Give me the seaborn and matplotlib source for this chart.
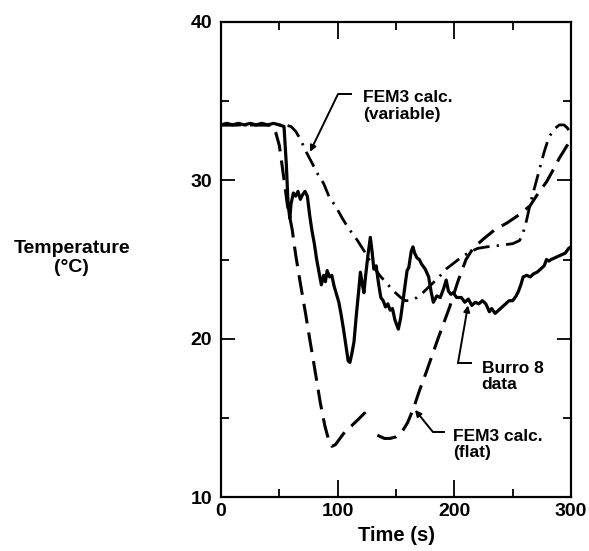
import matplotlib
matplotlib.use("Agg")
import matplotlib.pyplot as plt
import seaborn as sns
import pandas as pd

# ---------------- data ----------------
burro_t = [0, 5, 10, 15, 20, 25, 30, 35, 40, 45, 50, 54, 56, 57.5, 59, 60, 62, 64, 66, 68, 70, 72, 74,
           76, 78, 80, 82, 84, 86, 88, 89.5, 91, 93, 95, 97, 99, 101, 103, 105, 107, 109, 110.5, 112,
           114, 116, 118, 119.5, 121, 122.5, 124, 126, 128, 129.5, 131, 133, 135, 137, 139, 141, 143,
           145, 147, 149, 152, 154, 156, 158, 159.5, 161, 163, 164.5, 166, 168, 170, 172, 175, 178,
           180, 182, 185, 188, 191, 193, 195, 197, 199, 202, 206, 209, 212, 215, 218, 221, 224, 227,
           230, 232, 235, 238, 241, 244, 247, 250, 253, 255, 257, 259, 262, 265, 268, 271, 274, 277,
           279, 281, 283, 286, 289, 292, 295, 298, 300]
burro_T = [33.5, 33.6, 33.5, 33.6, 33.5, 33.6, 33.5, 33.6, 33.5, 33.6, 33.5, 33.4, 31.0, 28.5, 27.6,
           28.5, 29.2, 29.0, 29.3, 28.8, 29.1, 29.3, 29.0, 27.8, 26.8, 26.0, 25.0, 24.2, 23.4, 24.0,
           23.6, 24.3, 23.9, 24.0, 23.3, 22.8, 22.3, 21.5, 20.6, 19.6, 18.6, 18.5, 19.0, 19.8, 21.5,
           23.0, 24.2, 23.5, 22.9, 24.0, 25.3, 26.4, 25.5, 24.4, 24.6, 23.5, 22.6, 22.4, 22.0, 22.2,
           21.8, 21.9, 21.2, 20.6, 21.3, 22.4, 23.5, 24.3, 24.5, 25.5, 25.8, 25.4, 25.1, 25.0, 24.7,
           24.4, 23.9, 23.0, 22.3, 22.7, 22.6, 23.2, 23.7, 23.0, 22.8, 22.9, 22.6, 22.6, 22.3, 22.5,
           22.1, 22.3, 22.2, 22.4, 22.2, 21.7, 21.9, 21.6, 21.8, 22.0, 22.2, 22.4, 22.4, 22.7, 23.0,
           23.4, 23.9, 24.0, 23.9, 24.1, 24.2, 24.4, 24.6, 25.0, 24.9, 25.0, 25.1, 25.2, 25.3, 25.4,
           25.7, 25.8]

flat1_t = [0, 40, 44, 47, 50, 53, 57, 61, 64, 68, 72, 76, 81, 85, 89, 93, 95, 98, 102, 106, 112,
           119, 123, 127]
flat1_T = [33.5, 33.5, 33.4, 33.0, 32.2, 30.6, 28.4, 26.9, 25.3, 23.5, 21.8, 20.0, 17.8, 16.0, 14.5,
           13.4, 13.2, 13.3, 13.7, 14.1, 14.5, 15.0, 15.3, 14.8]
flat2_t = [134, 140, 145, 150, 155, 160, 165, 170, 176, 186, 196, 203, 210, 216, 225, 235, 245, 255,
           265, 272, 279, 285, 290, 295, 300]
flat2_T = [13.9, 13.7, 13.7, 13.8, 14.1, 14.7, 15.6, 16.7, 17.9, 20.0, 22.0, 23.6, 25.0, 25.7, 26.3,
           26.9, 27.3, 27.8, 28.4, 29.2, 29.9, 30.7, 31.4, 32.0, 32.6]

var_t = [0, 55, 60, 64, 68, 73, 78, 82, 88, 93, 98, 104, 109, 113, 117, 123, 130, 136, 142, 148,
         154, 158, 162, 168, 173, 180, 187, 193, 200, 207, 214, 220, 228, 240, 250, 256, 259, 262,
         265, 269, 273, 277, 281, 285, 290, 294, 297, 300]
var_T = [33.5, 33.5, 33.4, 33.1, 32.6, 31.8, 31.1, 30.5, 29.8, 28.9, 28.4, 27.6, 27.0, 26.6, 26.2,
         25.5, 24.6, 24.0, 23.5, 23.0, 22.6, 22.4, 22.4, 22.6, 22.9, 23.4, 23.9, 24.4, 24.8, 25.2,
         25.5, 25.7, 25.8, 25.9, 26.0, 26.2, 26.7, 27.5, 28.5, 29.6, 30.7, 31.8, 32.7, 33.2, 33.5,
         33.5, 33.3, 32.9]

x_major = [0, 100, 200, 300]
x_minor = [50, 150, 250]
y_major = [10, 20, 30, 40]
y_minor = [15, 25, 35]

# annotations: text position, leader start (horizontal end), corner, arrow tip
ann_var = dict(text="FEM3 calc.\n(variable)", xy_text=(121.7, 34.7),
               h_start=(112.3, 35.45), corner=(100.3, 35.45), tip=(76.3, 31.8))
ann_burro = dict(text="Burro 8\ndata", xy_text=(223.4, 17.6),
                 h_start=(215.1, 18.45), corner=(203.1, 18.45), tip=(211.7, 22.1))
ann_flat = dict(text="FEM3 calc.\n(flat)", xy_text=(198.9, 13.3),
                h_start=(192.0, 14.1), corner=(181.7, 14.1), tip=(166.3, 15.5))

# ---------------- style ----------------
sns.set_style("ticks")
plt.rcParams["font.family"] = ["Liberation Sans", "DejaVu Sans"]
plt.rcParams["font.weight"] = "bold"
plt.rcParams["text.color"] = "black"
plt.rcParams["axes.labelcolor"] = "black"
plt.rcParams["xtick.color"] = "black"
plt.rcParams["ytick.color"] = "black"

fig = plt.figure(figsize=(5.89, 5.51), dpi=100)
ax = fig.add_axes([221 / 589, 1 - 497 / 551, 350 / 589, 475 / 551])

df_b = pd.DataFrame({"t": burro_t, "T": burro_T})
df_f1 = pd.DataFrame({"t": flat1_t, "T": flat1_T})
df_f2 = pd.DataFrame({"t": flat2_t, "T": flat2_T})
df_v = pd.DataFrame({"t": var_t, "T": var_T})

lw_solid = 2.3
lw_dash = 2.2
lw_dd = 2.0
dash_style = (0, (6.5, 3.0))
dashdot_style = (0, (6.0, 2.6, 0.8, 2.6))

sns.lineplot(data=df_v, x="t", y="T", ax=ax, color="black", lw=lw_dd, linestyle=dashdot_style,
             estimator=None, sort=False, dash_capstyle="butt")
sns.lineplot(data=df_f1, x="t", y="T", ax=ax, color="black", lw=lw_dash, linestyle=dash_style,
             estimator=None, sort=False, dash_capstyle="butt")
sns.lineplot(data=df_f2, x="t", y="T", ax=ax, color="black", lw=lw_dash, linestyle=dash_style,
             estimator=None, sort=False, dash_capstyle="butt")
sns.lineplot(data=df_b, x="t", y="T", ax=ax, color="black", lw=lw_solid, linestyle="-",
             estimator=None, sort=False)

ax.set_xlim(0, 300)
ax.set_ylim(10, 40)
ax.set_xticks(x_major)
ax.set_xticks(x_minor, minor=True)
ax.set_yticks(y_major)
ax.set_yticks(y_minor, minor=True)
ax.set_xticklabels([str(v) for v in x_major], fontsize=14, fontweight="bold")
ax.set_yticklabels([str(v) for v in y_major], fontsize=14, fontweight="bold")

ax.tick_params(axis="x", which="major", direction="in", length=12, width=1.3, top=True,
               bottom=True, pad=4, colors="black")
ax.tick_params(axis="x", which="minor", direction="in", length=6, width=1.3, top=True, bottom=True,
               colors="black")
ax.tick_params(axis="y", which="major", direction="in", length=10, width=1.3, left=True,
               right=True, pad=6.5, colors="black")
ax.tick_params(axis="y", which="minor", direction="in", length=6, width=1.3, left=True, right=True,
               colors="black")

for s in ax.spines.values():
    s.set_visible(True)
    s.set_linewidth(1.6)
    s.set_color("black")

ax.set_xlabel("Time (s)", fontsize=14.5, fontweight="bold", va="center", color="black")
ax.xaxis.set_label_coords(0.5, -0.082)
ax.set_ylabel("Temperature\n(°C)", fontsize=14, fontweight="bold", rotation=0,
              ha="center", va="center", linespacing=1.1, color="black")
ax.yaxis.set_label_coords(-0.426, 0.503)

for a in (ann_var, ann_burro, ann_flat):
    ax.text(a["xy_text"][0], a["xy_text"][1], a["text"], ha="left", va="center",
            fontsize=12.5, fontweight="bold", linespacing=1.1, color="black")
    ax.plot([a["h_start"][0], a["corner"][0]], [a["h_start"][1], a["corner"][1]],
            color="black", lw=1.4, solid_capstyle="butt")
    ax.annotate("", xy=a["tip"], xytext=a["corner"],
                arrowprops=dict(arrowstyle="-|>", color="black", lw=1.4,
                                shrinkA=0, shrinkB=0, mutation_scale=9))

ax.set_facecolor("white")
fig.patch.set_facecolor("white")
fig.savefig("out.png", dpi=100, facecolor="white")
